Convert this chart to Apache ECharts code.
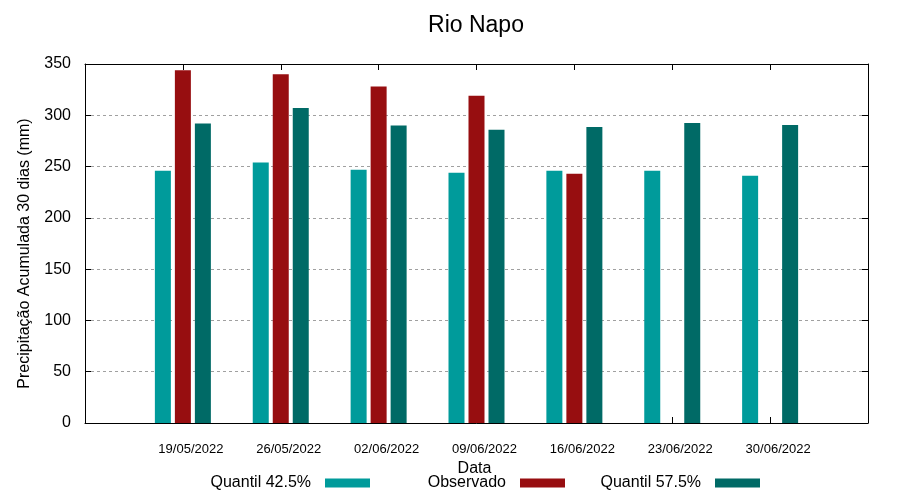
<!DOCTYPE html>
<html>
<head>
<meta charset="utf-8">
<script src="https://cdn.jsdelivr.net/npm/echarts@6/dist/echarts.min.js"></script>
<style>html,body{margin:0;padding:0;background:#fff;}#c{width:900px;height:500px;}</style>
</head>
<body>
<div id="c"></div>
<script>
const categories = ['19/05/2022', '26/05/2022', '02/06/2022', '09/06/2022', '16/06/2022', '23/06/2022', '30/06/2022'];
const quantil425 = [246, 254, 247, 244, 246, 246, 241];
const observado = [344, 340, 328, 319, 243, null, null];
const quantil575 = [292, 307, 290, 286, 288.5, 292.5, 290.5];
const yMin = 0, yMax = 350, yInterval = 50;

const FONT = "'Liberation Sans', Arial, sans-serif";
const toPairs = arr => arr.map((v, i) => [i, v == null ? '-' : v]);

const chart = echarts.init(document.getElementById('c'), null, {renderer: 'canvas'});
const legendBase = () => ({
  top: 475, align: 'right', itemWidth: 45, itemHeight: 9, padding: 0, icon: 'rect',
  selectedMode: false,
  textStyle: {fontFamily: FONT, fontSize: 16, color: '#000', padding: [0, 9, 0, 0]}
});
const axisLine = () => ({show: true, onZero: false, lineStyle: {color: '#000', width: 1}});
const axisTick = () => ({show: true, inside: true, length: 6, lineStyle: {color: '#000', width: 1}});
chart.setOption({
  animation: false,
  backgroundColor: '#fff',
  title: {
    text: 'Rio Napo', left: 471, top: 9, textAlign: 'center',
    textStyle: {fontFamily: FONT, fontSize: 23, fontWeight: 'normal', color: '#000'}
  },
  legend: [
    Object.assign(legendBase(), {data: ['Quantil 42.5%'], right: 530}),
    Object.assign(legendBase(), {data: ['Observado'], right: 335}),
    Object.assign(legendBase(), {data: ['Quantil 57.5%'], right: 140})
  ],
  grid: {left: 85, right: 32, top: 64, bottom: 77, containLabel: false},
  xAxis: [
    {
      type: 'value', min: -1, max: categories.length, interval: 1,
      name: 'Data', nameLocation: 'middle', nameGap: 37,
      nameTextStyle: {fontFamily: FONT, fontSize: 16, color: '#000', padding: [0, 4, 0, 0]},
      axisLine: axisLine(), axisTick: axisTick(),
      splitLine: {show: false},
      axisLabel: {
        fontFamily: FONT, fontSize: 13, color: '#000', margin: 20, padding: [0, 0, 0, 16],
        formatter: v => { const i = Math.round(v); return (i >= 0 && i < categories.length && Math.abs(v - i) < 1e-6) ? categories[i] : ''; }
      }
    },
    {
      type: 'value', position: 'top', min: -1, max: categories.length, interval: 1,
      axisLine: axisLine(), axisTick: axisTick(),
      axisLabel: {show: false}, splitLine: {show: false}
    }
  ],
  yAxis: [
    {
      type: 'value', min: yMin, max: yMax, interval: yInterval,
      name: 'Precipitação Acumulada 30 dias (mm)', nameLocation: 'middle', nameGap: 52,
      nameTextStyle: {fontFamily: FONT, fontSize: 16, color: '#000', padding: [0, 20, 0, 0]},
      axisLine: axisLine(), axisTick: axisTick(),
      axisLabel: {fontFamily: FONT, fontSize: 16, color: '#000', margin: 14},
      splitLine: {show: true, lineStyle: {color: '#a0a0a0', width: 1, type: [3, 3]}}
    },
    {
      type: 'value', position: 'right', min: yMin, max: yMax, interval: yInterval,
      axisLine: axisLine(), axisTick: axisTick(),
      axisLabel: {show: false}, splitLine: {show: false}
    }
  ],
  series: [
    {name: 'Quantil 42.5%', type: 'bar', xAxisIndex: 0, yAxisIndex: 0, barWidth: 16, barGap: '25%',
     itemStyle: {color: '#009b9b'}, data: toPairs(quantil425)},
    {name: 'Observado', type: 'bar', xAxisIndex: 0, yAxisIndex: 0, barWidth: 16, barGap: '25%',
     itemStyle: {color: '#970e10'}, data: toPairs(observado)},
    {name: 'Quantil 57.5%', type: 'bar', xAxisIndex: 0, yAxisIndex: 0, barWidth: 16, barGap: '25%',
     itemStyle: {color: '#006a66'}, data: toPairs(quantil575)}
  ]
});
</script>
</body>
</html>
